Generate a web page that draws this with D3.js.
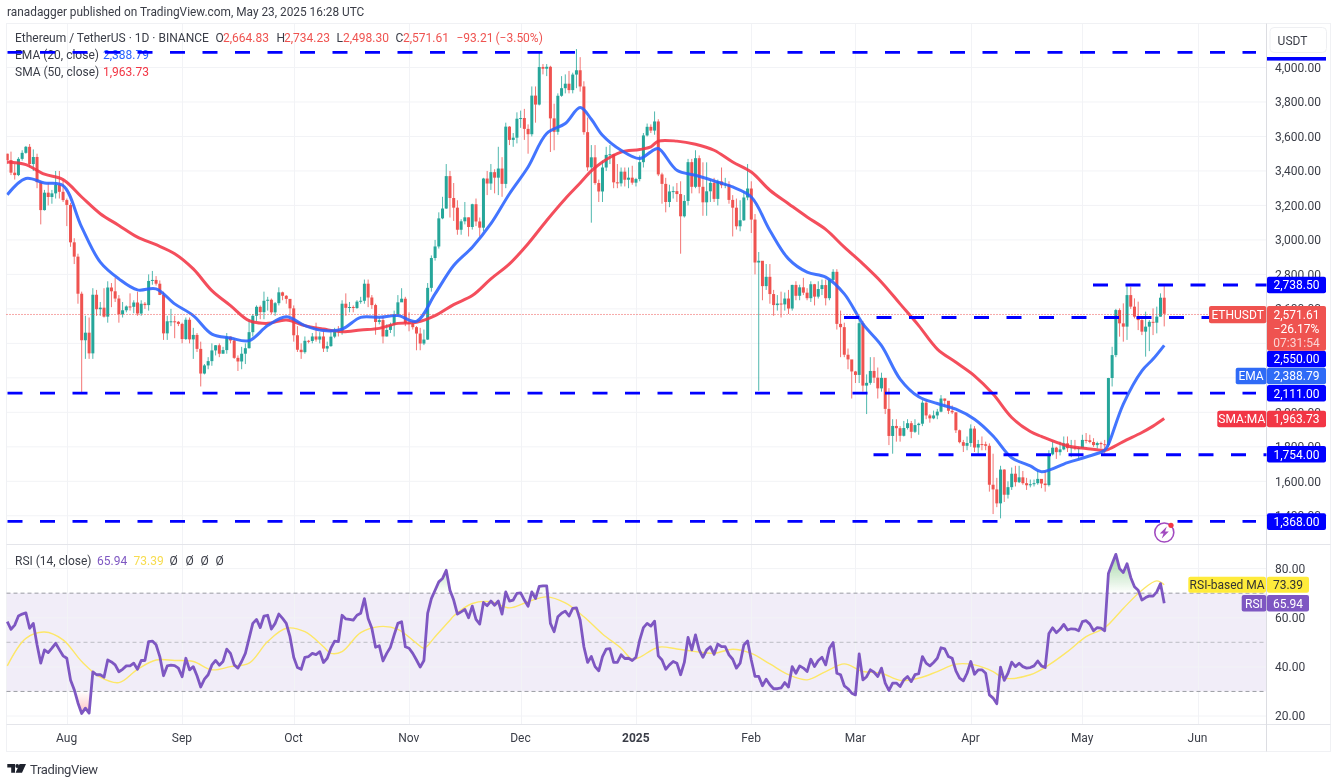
<!DOCTYPE html>
<html>
<head>
<meta charset="utf-8">
<title>ETHUSDT</title>
<script src="https://cdn.jsdelivr.net/npm/d3@7"></script>
<style>
  html, body { margin: 0; padding: 0; background: #fff; }
  svg { display: block; filter: blur(0.4px); }
  text { font-family: Roboto, sans-serif; font-size: 12px; fill: #3a3d47; }
</style>
</head>
<body>
<script>
// ! Values, one per day starting 2024-07-16
const closes = [
  3463,3390,3376,3470,3505,3540,3440,3481,3335,3173,3274,3249,3270,3319,3279,3231,
  3203,2986,2903,2688,2418,2462,2342,2682,2598,2607,2555,2724,2702,2660,2569,2592,2614,2612,2637,2573,2630,2622,2762,2768,2746,2681,2458,2528,2528,2525,2513,
  2425,2537,2423,2449,2368,2225,2272,2297,2359,2389,2340,2361,2439,2417,2316,2295,2340,2372,2465,2560,2612,2581,2647,2653,2580,2633,2696,2676,2658,2603,
  2447,2363,2349,2415,2414,2440,2422,2440,2370,2384,2439,2476,2470,2630,2606,2611,2605,2642,2647,2746,2666,2622,2524,2535,2440,2478,2508,2568,2638,2659,2518,
  2513,2494,2457,2399,2422,2722,2895,2962,3125,3182,3370,3243,3187,3059,3108,3131,3075,3207,3107,3071,3356,3327,3393,3361,3414,3325,3657,3580,3593,3703,
  3707,3644,3613,3837,3785,4003,3993,4004,3705,3627,3836,3880,3906,3869,3959,3984,3890,3625,3421,3479,3330,3281,3420,3493,3497,3334,3328,3396,3349,3361,3332,
  3353,3451,3606,3656,3634,3687,3380,3325,3220,3281,3283,3266,3137,3226,3451,3308,3474,3308,3218,3282,3331,3238,3339,3317,3322,3232,3187,3079,3114,3246,3298,
  3118,2869,2879,2732,2786,2686,2622,2631,2626,2660,2602,2739,2676,2725,2694,2662,2743,2671,2715,2738,2662,2768,2815,2513,2494,2334,2307,2237,
  2217,2517,2155,2171,2240,2201,2139,2200,2020,1863,1921,1908,1864,1909,1937,1887,1926,1934,2056,1982,1965,1982,2004,2080,2067,2009,2000,1896,1827,1806,1822,
  1906,1796,1816,1815,1806,1580,1553,1472,1668,1522,1566,1644,1595,1623,1589,1577,1583,1589,1614,1587,1578,1756,1795,1769,1785,1820,1792,1799,1793,1793,
  1840,1838,1828,1810,1822,1815,1810,2199,2332,2593,2516,2497,2680,2613,2555,2535,2468,2497,2525,2520,2555,2664.83,2571.61,
];
const highs = [
  3500,3512,3440,3480,3520,3545,3556,3525,3500,3340,3290,3330,3290,3400,3400,3350,
  3240,3215,3010,2920,2700,2560,2550,2720,2710,2640,2720,2760,2750,2780,2680,2640,2620,2690,2650,2700,2650,2640,2800,2820,2790,2765,2700,2560,2600,2560,2530,
  2520,2550,2550,2490,2460,2410,2280,2320,2400,2390,2400,2380,2460,2440,2430,2330,2380,2400,2540,2570,2620,2620,2700,2670,2660,2640,2725,2700,2680,2640,
  2620,2500,2400,2440,2420,2460,2520,2465,2470,2410,2470,2490,2500,2650,2690,2640,2620,2650,2670,2770,2770,2680,2630,2550,2560,2510,2520,2590,2680,2720,2670,
  2580,2530,2500,2490,2480,2750,2910,3000,3160,3250,3440,3400,3330,3230,3120,3220,3130,3210,3240,3130,3360,3400,3440,3410,3540,3480,3680,3660,3620,3740,
  3750,3760,3670,3890,3890,4090,4020,4020,4010,3790,3850,3950,3960,3980,3970,4107,4060,3920,3710,3550,3550,3350,3460,3540,3550,3500,3440,3420,3420,3420,3430,
  3360,3490,3620,3675,3670,3745,3700,3390,3360,3320,3310,3330,3340,3260,3470,3470,3520,3490,3450,3450,3350,3360,3350,3420,3360,3340,3260,3240,3230,3280,3440,
  3340,3150,2930,2830,2860,2860,2710,2680,2700,2695,2710,2740,2760,2740,2780,2720,2760,2745,2760,2770,2770,2770,2830,2830,2590,2520,2370,2270,
  2240,2550,2530,2220,2320,2320,2260,2230,2150,2140,1960,1960,1920,1950,1960,1950,1960,1940,2070,2070,1990,2010,2020,2100,2080,2060,2040,2000,1900,1840,1860,
  1930,1920,1840,1860,1830,1820,1760,1620,1690,1670,1600,1680,1690,1690,1660,1620,1610,1610,1660,1610,1660,1780,1830,1800,1830,1860,1860,1840,1840,1800,
  1870,1880,1870,1850,1830,1830,1840,2200,2380,2600,2603,2632,2738,2729,2661,2642,2555,2584,2535,2603,2613,2690,2734.23,
];
const lows = [
  3440,3376,3350,3370,3460,3500,3420,3400,3300,3090,3170,3200,3210,3240,3240,3220,
  3080,2960,2860,2630,2111,2310,2310,2310,2560,2560,2550,2520,2610,2640,2520,2550,2580,2590,2575,2560,2560,2600,2590,2740,2735,2680,2420,2420,2500,2430,2500,
  2400,2420,2400,2310,2350,2150,2220,2250,2270,2330,2320,2340,2340,2400,2310,2240,2250,2280,2370,2440,2530,2540,2540,2590,2570,2560,2620,2650,2630,2560,
  2410,2350,2310,2340,2400,2400,2410,2400,2350,2350,2380,2430,2440,2450,2560,2580,2580,2600,2630,2630,2610,2600,2450,2510,2400,2440,2460,2440,2560,2640,2500,
  2470,2480,2360,2360,2390,2420,2700,2880,2950,3120,3180,3130,3110,3030,3030,3090,3020,3060,3080,3020,3050,3260,3290,3270,3260,3250,3300,3550,3540,3560,
  3650,3580,3500,3600,3680,3780,3960,3950,3510,3520,3610,3830,3850,3850,3850,3880,3860,3610,3400,3100,3320,3220,3220,3400,3440,3300,3300,3310,3310,3300,3320,
  3310,3340,3420,3600,3620,3610,3370,3210,3160,3190,3240,3220,2920,3130,3200,3270,3300,3270,3140,3140,3220,3220,3200,3300,3300,3210,3020,3060,3050,3110,3230,
  3040,2800,2125,2650,2710,2630,2560,2590,2550,2590,2570,2590,2650,2650,2680,2650,2640,2620,2660,2680,2620,2650,2760,2480,2320,2320,2250,2080,
  2170,2170,2120,1990,2160,2170,2080,2120,1990,1810,1760,1830,1830,1860,1900,1850,1880,1870,1920,1960,1940,1960,1960,2000,2030,1990,1990,1880,1820,1770,1780,
  1800,1770,1760,1780,1780,1540,1410,1450,1385,1480,1500,1550,1570,1590,1580,1550,1565,1570,1580,1560,1540,1570,1750,1730,1750,1780,1770,1740,1780,1730,
  1820,1820,1820,1800,1790,1790,1760,1800,2150,2320,2439,2410,2420,2600,2545,2477,2448,2323,2355,2448,2458,2555,2498.30,
];
// the first day's open, every later day opens at the close before it
const firstOpen = 3500;

const maDays = [
  0,5,10,15,20,25,30,35,40,45,50,55,60,65,70,75,80,85,90,95,100,105,110,115,120,125,130,135,140,145,150,154,157,160,165,170,173,175,
  180,185,190,195,200,205,210,215,220,225,230,235,240,245,250,255,260,265,270,275,278,285,290,295,296,300,305,308,311,
];
const emaValues = [
  3262,3356,3330,3315,3074,2871,2774,2710,2716,2629,2561,2454,2431,2416,2503,2555,2503,2474,2483,2551,2551,2561,2528,2687,2852,2958,3094,3268,3423,3617,3675,3768,3700,3607,3520,3472,3511,3530,
  3404,3375,3342,3307,3249,3055,2890,2813,2784,2687,2513,2387,2193,2090,2051,2018,1960,1863,1737,1689,1655,1708,1741,1780,1815,2048,2241,2309,2388.79,
];
const smaValues = [
  3452,3437,3381,3350,3249,3152,3084,3016,2972,2920,2832,2706,2619,2532,2516,2536,2503,2483,2468,2478,2487,2516,2522,2561,2625,2677,2774,2861,2978,3113,3239,3330,3400,3452,3509,3524,3540,3573,
  3573,3555,3520,3452,3394,3288,3210,3133,3061,2958,2861,2755,2629,2503,2367,2290,2212,2106,1970,1889,1860,1805,1790,1780,1785,1830,1883,1920,1963.73,
];

const rsiValues = [
  58.4,55.3,57,60.7,61.5,62,55.7,57.7,49,41.5,46.9,45.8,47.6,49.6,47,44.5,43.5,34.7,30.7,25.3,21,23.2,21.2,38,36.8,36.8,35.8,42.8,42,40.8,38,39,40.4,40.4,41.5,39,42.6,42.6,50.3,50.5,
  49,44.2,36.4,40.4,40.7,40.5,39.5,36,43.5,38.8,40.1,36.4,31.8,35,36.8,40.8,42.6,40.7,42.2,47.2,45.5,40.8,39.5,42.2,45.5,51.6,57.7,59.3,56,60.7,61,55.4,57.7,61.5,59.7,57.7,52.3,43.9,39.7,39,
  43.9,44.2,45.5,45,46.2,41.8,43.5,47.6,50.5,50.3,61,59.5,59.3,59,61,61.8,67.8,59.7,55.7,48,48.6,42.4,45.5,48,53,57.7,58.4,48.2,47.6,45.5,42.8,39.9,42.6,61.8,67.8,71.2,74.6,76,
  79.3,71.2,67.2,61.5,62.4,63.4,60,64.7,59.3,57.4,66.2,64.9,66.8,65.1,66.8,61.5,70.5,66.8,67.2,69.9,70.1,67.2,64.7,70.5,67.8,72.8,73,73,57.7,54.3,60.4,61.8,62.7,60.7,63.8,64,59,48.2,41.8,44.2,
  40.1,38.4,44.2,47.2,47.4,41.8,41.8,44.9,43.4,43.5,42.6,43.9,50.9,56,57.7,56.6,58.6,44.5,42.8,39,40.8,42.2,41.5,36.8,41.8,52,46.9,53,46.9,43.9,46.9,48.2,45.1,49.3,48.2,48.2,44.9,43.1,39.5,41.5,
  48.9,50.5,42.8,36.1,36.1,32.3,35,32.7,31.1,31.1,31.4,33.6,31.8,40.1,37.4,40.4,39.5,38.1,43.1,40.1,42.6,43.9,40.8,47.6,49.9,37.4,36.8,32.3,31.1,29.3,28.6,45.3,
  34.7,36,38.8,37.8,36.1,39.5,33.4,30.4,33.4,33.4,32,34.7,36.1,34,36.8,37.2,44.2,41.5,40.4,41.8,43.5,47.8,47.3,44.2,43.5,38.4,35.4,34.3,37.4,42.2,37,38.8,38.8,37.4,28.6,27.3,25,39.9,34.5,37.4,
  41.9,40.1,41.5,40.1,39.5,39.7,40.4,42.4,40.4,39.7,53.6,55.9,53.9,55.3,57.3,55,55.5,55.4,54.7,58.4,58.8,57.4,54.7,56,55.8,54.7,78,82,85.8,80,78.4,82,76.4,72.6,71.2,67.2,68.2,68.9,68.8,70.5,73.9,65.94,
];
const rsiMaDays = [
  0,5,10,15,20,25,30,35,40,45,50,55,60,65,70,75,80,85,87,90,95,100,105,110,112,115,119,120,125,130,135,140,145,150,155,160,165,168,170,175,180,185,190,195,200,205,210,215,220,225,230,235,240,245,250,255,260,265,268,275,280,285,290,295,300,305,309,311,
];
const rsiMaValues = [
  40.4,51.6,54.2,51,42.2,35.8,33.6,39,42.8,42.6,42.2,38.8,40.1,41.5,50.3,55.7,54.3,48.2,45.5,46.2,53.9,56.4,55.3,49.6,47.6,52.3,59,60.7,65.8,66.5,64,66.5,68.5,66,60.4,53.4,47.6,43.1,43.9,48,47.3,46.2,45.5,47.2,45.5,41.2,36.8,34.7,38.1,41.2,38.1,37.4,34.5,35.4,38.1,41.1,40.8,38.1,35.4,36.8,40.8,46.2,52.3,55.9,63.8,71.2,75,73.39,
];

const priceTicks = [4000,3800,3600,3400,3200,3000,2800,2600,2400,2200,2000,1800,1600,1400];
const rsiTicks = [80,60,40,20];
const rsiBands = [70,50,30];
const monthLabels = ['Aug','Sep','Oct','Nov','Dec','2025','Feb','Mar','Apr','May','Jun'];
const monthStarts = [
  '2024-08-01','2024-09-01','2024-10-01','2024-11-01','2024-12-01','2025-01-01',
  '2025-02-01','2025-03-01','2025-04-01','2025-05-01','2025-06-01',
].map((d) => new Date(`${d}T00:00:00Z`));

// ! Drawing begins here
const width = 1339;
const height = 783;
const frame = { left: 6.5, right: 1330.5, top: 23.5, bottom: 751.5 };
const axisX = 1266.5;
const paneY = 544.5;
const timeY = 724.5;

const colors = {
  up: '#26a69a', down: '#ef5350', ema: '#2962ff', sma: '#f23645', rsi: '#7e57c2', rsiMa: '#fde768', level: '#0000ff', grid: '#f2f3f6', border: '#e4e5ea',
};

const firstDay = new Date('2024-07-16T00:00:00Z');
const dayDate = (i) => d3.utcDay.offset(firstDay, i);

const x = d3.scaleUtc().domain([monthStarts[0], monthStarts[10]]).range([66.8, 1197.7]);
const y = d3.scaleLinear().domain([1368, 4000]).range([521.3, 67.5]);
const yRsi = d3.scaleLinear().domain([20, 80]).range([716, 568.6]);

const candles = closes.map((close, i) => ({
  date: dayDate(i), open: i === 0 ? firstOpen : closes[i - 1], high: highs[i], low: lows[i], close,
}));

const svg = d3.select('body').append('svg').attr('width', width).attr('height', height);
const defs = svg.append('defs');
defs.append('clipPath').attr('id', 'plotClip').append('rect')
  .attr('x', frame.left).attr('y', frame.top).attr('width', axisX - frame.left).attr('height', paneY - frame.top);
defs.append('clipPath').attr('id', 'overClip').append('rect')
  .attr('x', frame.left).attr('y', paneY).attr('width', axisX - frame.left).attr('height', yRsi(70) - paneY);
defs.append('clipPath').attr('id', 'underClip').append('rect')
  .attr('x', frame.left).attr('y', yRsi(30)).attr('width', axisX - frame.left).attr('height', timeY - yRsi(30));
const overGrad = defs.append('linearGradient').attr('id', 'overGrad').attr('gradientUnits', 'userSpaceOnUse')
  .attr('x1', 0).attr('x2', 0).attr('y1', 556).attr('y2', yRsi(70));
overGrad.append('stop').attr('offset', 0).attr('stop-color', '#4caf50').attr('stop-opacity', 0.5);
overGrad.append('stop').attr('offset', 1).attr('stop-color', '#4caf50').attr('stop-opacity', 0);
const underGrad = defs.append('linearGradient').attr('id', 'underGrad').attr('gradientUnits', 'userSpaceOnUse')
  .attr('x1', 0).attr('x2', 0).attr('y1', yRsi(30)).attr('y2', 716);
underGrad.append('stop').attr('offset', 0).attr('stop-color', '#ff5252').attr('stop-opacity', 0);
underGrad.append('stop').attr('offset', 1).attr('stop-color', '#ff5252').attr('stop-opacity', 0.4);

// * Frame and grid
const grid = svg.append('g').attr('stroke', colors.grid).attr('fill', 'none');
grid.selectAll('.v').data(monthStarts).enter().append('line')
  .attr('x1', (d) => Math.round(x(d)) + 0.5).attr('x2', (d) => Math.round(x(d)) + 0.5)
  .attr('y1', frame.top).attr('y2', timeY);
grid.selectAll('.h').data(priceTicks).enter().append('line')
  .attr('x1', frame.left).attr('x2', axisX).attr('y1', (d) => y(d)).attr('y2', (d) => y(d));

// * RSI pane background sits under its grid
svg.append('rect').attr('x', frame.left).attr('width', axisX - frame.left)
  .attr('y', yRsi(70)).attr('height', yRsi(30) - yRsi(70)).attr('fill', colors.rsi).attr('fill-opacity', 0.11);
grid.raise();
grid.selectAll('.hr').data(rsiTicks).enter().append('line')
  .attr('x1', frame.left).attr('x2', axisX).attr('y1', (d) => yRsi(d)).attr('y2', (d) => yRsi(d));

const borders = svg.append('g').attr('stroke', colors.border).attr('fill', 'none');
borders.append('rect').attr('x', frame.left).attr('y', frame.top)
  .attr('width', frame.right - frame.left).attr('height', frame.bottom - frame.top).attr('stroke', '#f0f1f4');
borders.append('line').attr('x1', frame.left).attr('x2', frame.right).attr('y1', paneY).attr('y2', paneY);
borders.append('line').attr('x1', frame.left).attr('x2', frame.right).attr('y1', timeY).attr('y2', timeY);
borders.append('line').attr('x1', axisX).attr('x2', axisX).attr('y1', frame.top).attr('y2', frame.bottom).attr('stroke', '#dcdde2');

// * Axes
const priceAxis = d3.axisRight(y).tickValues(priceTicks).tickSize(0).tickPadding(0).tickFormat(d3.format(',.2f'));
svg.append('g').attr('transform', 'translate(1275,0)').call(priceAxis)
  .call((g) => g.select('.domain').remove())
  .selectAll('text').style('font-size', '12px').style('font-family', 'Roboto, sans-serif');
const rsiAxis = d3.axisRight(yRsi).tickValues(rsiTicks).tickSize(0).tickPadding(0).tickFormat(d3.format('.2f'));
svg.append('g').attr('transform', 'translate(1275,0)').call(rsiAxis)
  .call((g) => g.select('.domain').remove())
  .selectAll('text').style('font-size', '12px').style('font-family', 'Roboto, sans-serif');
const timeAxis = d3.axisBottom(x).tickValues(monthStarts).tickSize(0).tickPadding(0)
  .tickFormat((d, i) => monthLabels[i]);
svg.append('g').attr('transform', 'translate(-0.7,733)').call(timeAxis)
  .call((g) => g.select('.domain').remove())
  .selectAll('text').style('font-size', '12px').style('font-family', 'Roboto, sans-serif')
  .style('font-weight', (d, i) => (monthLabels[i] === '2025' ? 700 : 400));

// * Candles
const plot = svg.append('g').attr('clip-path', 'url(#plotClip)');
const candleColor = (d) => (d.close >= d.open ? colors.up : colors.down);
plot.selectAll('.wick').data(candles).enter().append('line')
  .attr('x1', (d) => x(d.date)).attr('x2', (d) => x(d.date))
  .attr('y1', (d) => y(d.high)).attr('y2', (d) => y(d.low))
  .attr('stroke', candleColor).attr('stroke-opacity', 0.8);
plot.selectAll('.body').data(candles).enter().append('rect')
  .attr('x', (d) => x(d.date) - 1.5).attr('width', 3)
  .attr('y', (d) => Math.min(y(d.open), y(d.close)))
  .attr('height', (d) => Math.max(1, Math.abs(y(d.open) - y(d.close))))
  .attr('fill', candleColor);

// * Current price line
svg.append('line').attr('x1', frame.left).attr('x2', 1209)
  .attr('y1', y(2571.61) + 0.7).attr('y2', y(2571.61) + 0.7)
  .attr('stroke', colors.down).attr('stroke-dasharray', '1 2');

// * Moving averages
const maLine = (values) => d3.line().curve(d3.curveCatmullRom.alpha(0.5))
  .x((d, i) => x(dayDate(maDays[i])))
  .y((d) => y(d))(values);
plot.append('path').attr('d', maLine(smaValues)).attr('fill', 'none')
  .attr('stroke', colors.sma).attr('stroke-width', 3).attr('stroke-opacity', 0.88);
plot.append('path').attr('d', maLine(emaValues)).attr('fill', 'none')
  .attr('stroke', colors.ema).attr('stroke-width', 3).attr('stroke-opacity', 0.88);

// * Legends
function legendText(px, py, text, fill) {
  return svg.append('text').attr('x', px).attr('y', py).attr('fill', fill || '#3a3d47')
    .style('fill', fill || '#3a3d47').text(text);
}
legendText(7, 16, 'ranadagger published on TradingView.com, May 23, 2025 16:28 UTC').style('font-size', '11.85px');
legendText(15, 42, 'Ethereum / TetherUS · 1D · BINANCE');
[['O', 215.5, '2,664.83', 223], ['H', 276.5, '2,734.23', 284], ['L', 336.5, '2,498.30', 343], ['C', 395.5, '2,571.61', 403]]
  .forEach(([k, kx, v, vx]) => {
    legendText(kx, 42, k);
    legendText(vx, 42, v, colors.down);
  });
legendText(456.5, 42, '−93.21', colors.down);
legendText(495.5, 42, '(−3.50%)', colors.down);
legendText(15, 59, 'EMA (20, close)');
legendText(103, 59, '2,388.79', colors.ema);
legendText(15, 76, 'SMA (50, close)');
legendText(103, 76, '1,963.73', colors.sma);
legendText(15, 565, 'RSI (14, close)');
legendText(97, 565, '65.94', colors.rsi);
legendText(133.5, 565, '73.39', '#f7dc4f');
[169.5, 185.5, 200.5, 215.5].forEach((lx) => legendText(lx, 565, 'Ø'));

// * Support and resistance levels
const levelPrices = [4088, 2738.5, 2550, 2111, 1754, 1368];
const levelStarts = [7.5, 1093, 844, 7.5, 873.5, 7.5];
const levelEnds = [1256, axisX, axisX, 1256, axisX, 1256];
svg.append('g').selectAll('line').data(levelPrices).enter().append('line')
  .attr('x1', (d, i) => levelStarts[i]).attr('x2', (d, i) => levelEnds[i])
  .attr('y1', (d) => y(d)).attr('y2', (d) => y(d))
  .attr('stroke', colors.level).attr('stroke-width', 2.8).attr('stroke-dasharray', '15 17.5');

// * RSI pane
const rsiPane = svg.append('g');
rsiPane.selectAll('line').data(rsiBands).enter().append('line')
  .attr('x1', frame.left).attr('x2', axisX).attr('y1', (d) => yRsi(d)).attr('y2', (d) => yRsi(d))
  .attr('stroke', '#9a9ca3').attr('stroke-dasharray', '4 3').attr('stroke-opacity', (d) => (d === 50 ? 0.6 : 1));
const rsiX = (d, i) => x(dayDate(i));
const bandArea = (level) => d3.area().x(rsiX).y0(yRsi(level)).y1((d) => yRsi(d))(rsiValues);
rsiPane.append('path').attr('d', bandArea(70)).attr('fill', 'url(#overGrad)').attr('clip-path', 'url(#overClip)');
rsiPane.append('path').attr('d', bandArea(30)).attr('fill', 'url(#underGrad)').attr('clip-path', 'url(#underClip)');
rsiPane.append('path').attr('fill', 'none').attr('stroke', colors.rsiMa).attr('stroke-width', 1.4)
  .attr('d', d3.line().curve(d3.curveCatmullRom.alpha(0.5)).x((d, i) => x(dayDate(rsiMaDays[i]))).y((d) => yRsi(d))(rsiMaValues));
rsiPane.append('path').attr('fill', 'none').attr('stroke', colors.rsi).attr('stroke-width', 2.8)
  .attr('stroke-linejoin', 'round')
  .attr('d', d3.line().x(rsiX).y((d) => yRsi(d))(rsiValues));

// * Axis tags
function tag(tx, ty, w, h, fill, text, textFill, anchorX) {
  svg.append('rect').attr('x', tx).attr('y', ty).attr('width', w).attr('height', h)
    .attr('rx', 2).attr('fill', fill);
  svg.append('text').attr('x', anchorX || tx + w / 2).attr('y', ty + h / 2 + 4.2)
    .attr('text-anchor', 'middle').style('fill', textFill || '#fff').text(text);
}
const valueX = 1267;
const valueW = 59;
tag(valueX, 276.7, valueW, 16.6, colors.level, '2,738.50');
tag(valueX, 350.7, valueW, 16.6, colors.level, '2,550.00');
tag(valueX, 367.7, valueW, 16.6, '#2f6bf7', '2,388.79');
tag(1235.7, 367.7, 30.8, 16.6, '#2f6bf7', 'EMA');
tag(valueX, 385, valueW, 16.6, colors.level, '2,111.00');
tag(1217.3, 410.7, 49, 16.6, colors.sma, 'SMA:MA');
tag(valueX, 410.7, valueW, 16.6, colors.sma, '1,963.73');
tag(valueX, 446, valueW, 16.6, colors.level, '1,754.00');
tag(valueX, 513.3, valueW, 16.6, colors.level, '1,368.00');

tag(1209, 306, 57.3, 17.3, colors.down, 'ETHUSDT');
svg.append('rect').attr('x', valueX).attr('y', 306).attr('width', valueW).attr('height', 44.7)
  .attr('rx', 2).attr('fill', colors.down);
[['2,571.61', 318.5, 1], ['−26.17%', 332.5, 1], ['07:31:54', 347, 0.75]].forEach(([t, ty, op]) => {
  svg.append('text').attr('x', valueX + valueW / 2).attr('y', ty).attr('text-anchor', 'middle')
    .style('fill', '#fff').style('fill-opacity', op).text(t);
});

tag(1188.3, 576.7, 77.7, 16, '#ffeb3b', 'RSI-based MA', '#333');
tag(valueX, 576.7, 42, 16, '#ffeb3b', '73.39', '#333');
tag(1241.7, 595, 24.6, 16.6, colors.rsi, 'RSI');
tag(valueX, 595, 42, 16.6, colors.rsi, '65.94');

// * Currency button
svg.append('rect').attr('x', 1270).attr('y', 27.5).attr('width', 56.5).attr('height', 25)
  .attr('rx', 4).attr('fill', '#fff').attr('stroke', '#eeeff2');
svg.append('text').attr('x', 1292.5).attr('y', 44.5).attr('text-anchor', 'middle').text('USDT');
svg.append('rect').attr('x', 1267).attr('y', 57).attr('width', valueW).attr('height', 3.6).attr('fill', colors.level);

// * Bolt badge
const badge = svg.append('g').attr('transform', 'translate(1164.3,532.5)');
badge.append('circle').attr('r', 9.5).attr('fill', '#fff').attr('stroke', '#a24bc0').attr('stroke-width', 1.6);
badge.append('path').attr('d', 'M2.5,-6 L-4.5,1 L-0.8,1 L-2.5,6 L4.5,-1 L0.8,-1 Z').attr('fill', '#a24bc0');
badge.append('circle').attr('cx', 6.7).attr('cy', -7.2).attr('r', 2.6).attr('fill', '#f23645');

// * Logo
svg.append('path').attr('fill', '#1e222d')
  .attr('d', 'M7.3,764 H15 V772.8 H11.2 V767.6 H7.3 Z M19.6,764 H26 L22,772.8 H15.6 Z');
svg.append('circle').attr('cx', 17.2).attr('cy', 766).attr('r', 1.9).attr('fill', '#1e222d');
svg.append('text').attr('x', 30).attr('y', 773.5).style('font-size', '13px').style('letter-spacing', '-0.35px').text('TradingView');
</script>
</body>
</html>
